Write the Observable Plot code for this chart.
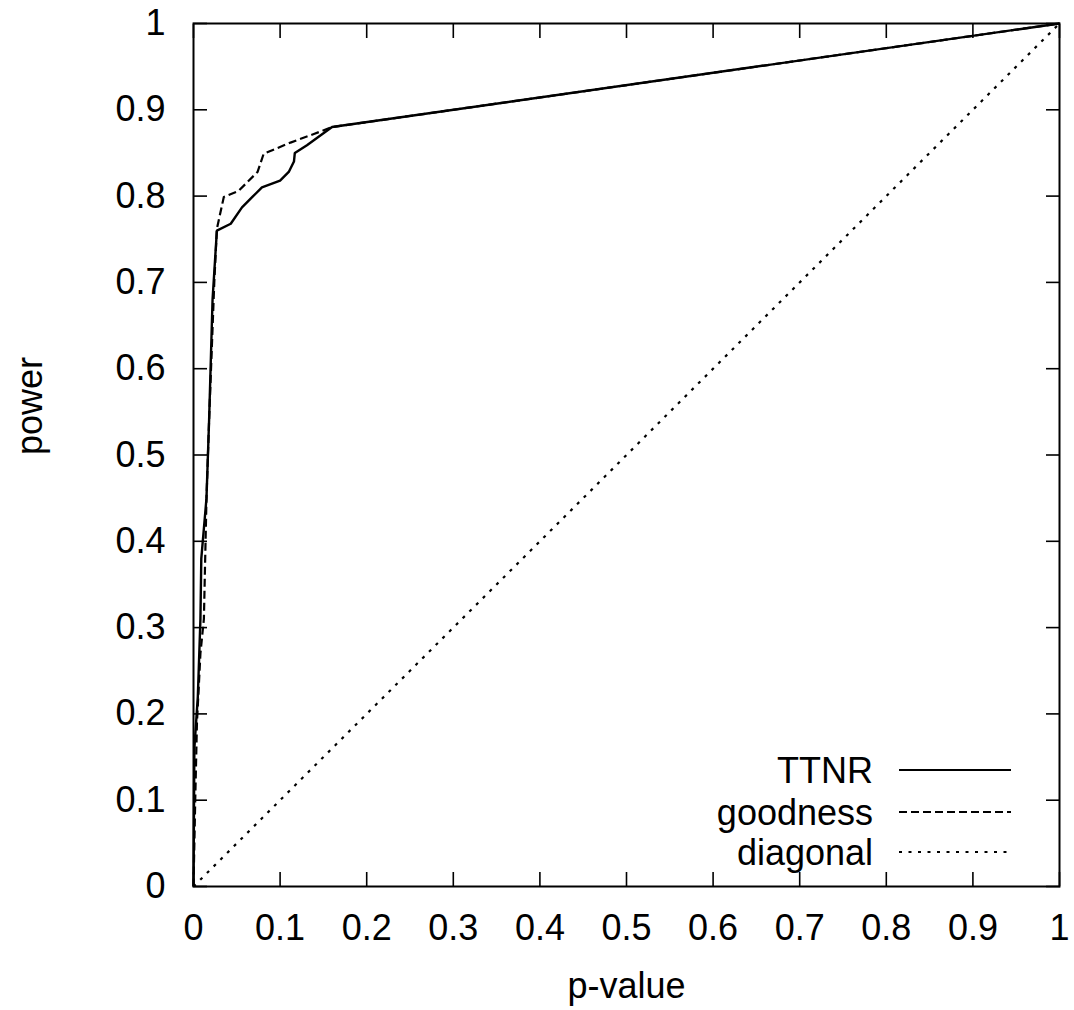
<!DOCTYPE html>
<html><head><meta charset="utf-8">
<script src="https://cdn.jsdelivr.net/npm/d3@7"></script>
<script src="https://cdn.jsdelivr.net/npm/@observablehq/plot@0.6"></script>
<style>
body{margin:0;background:#fff;}
#chart{position:relative;width:1074px;height:1010px;}
#legend{position:absolute;left:0;top:0;pointer-events:none;}
</style>
</head><body><div id="chart"></div>
<script>
const seriesNames = ["TTNR", "goodness", "diagonal"];
const xTicks = [0, 0.1, 0.2, 0.3, 0.4, 0.5, 0.6, 0.7, 0.8, 0.9, 1];
const yTicks = [0, 0.1, 0.2, 0.3, 0.4, 0.5, 0.6, 0.7, 0.8, 0.9, 1];
const ttnrX = [0, 0.001, 0.005, 0.008, 0.009, 0.015, 0.018, 0.022, 0.027, 0.043, 0.056, 0.068, 0.079, 0.100, 0.110, 0.116, 0.117, 0.131, 0.160, 1];
const ttnrY = [0, 0.16, 0.22, 0.31, 0.38, 0.45, 0.54, 0.68, 0.760, 0.768, 0.787, 0.799, 0.810, 0.818, 0.828, 0.840, 0.850, 0.859, 0.880, 1];
const goodX = [0, 0.002, 0.004, 0.008, 0.012, 0.015, 0.018, 0.024, 0.027, 0.035, 0.052, 0.074, 0.081, 0.112, 0.139, 0.160, 1];
const goodY = [0, 0.10, 0.19, 0.27, 0.31, 0.45, 0.54, 0.70, 0.762, 0.799, 0.806, 0.828, 0.849, 0.862, 0.872, 0.880, 1];
const diagX = [0, 1];
const diagY = [0, 1];

const styles = {
  TTNR: {dash: null, width: 2.4},
  goodness: {dash: "8,4", width: 2.2},
  diagonal: {dash: "3,6.5", width: 2.2}
};
const toRows = (xs, ys) => xs.map((x, i) => ({x, y: ys[i]}));
const series = {
  TTNR: toRows(ttnrX, ttnrY),
  goodness: toRows(goodX, goodY),
  diagonal: toRows(diagX, diagY)
};
const fmt = d => String(+d.toFixed(1));
const font = "'Liberation Sans', Arial, sans-serif";

const W = 1074, H = 1010;
const mL = 193, mR = 15, mT = 23, mB = 124;

const plot = Plot.plot({
  width: W, height: H,
  marginLeft: mL, marginRight: mR, marginTop: mT, marginBottom: mB,
  style: {fontFamily: font, background: "#fff", color: "#000"},
  x: {domain: [0, 1]},
  y: {domain: [0, 1]},
  marks: [
    Plot.axisX({anchor: "bottom", ticks: xTicks, tickFormat: fmt, tickSize: -14, tickPadding: 42, fontSize: 36, strokeWidth: 1.6, label: null}),
    Plot.axisX({anchor: "top", ticks: xTicks, tickFormat: () => "", tickSize: -14, strokeWidth: 1.6, label: null}),
    Plot.axisY({anchor: "left", ticks: yTicks, tickFormat: fmt, tickSize: -14, tickPadding: 42, fontSize: 36, strokeWidth: 1.6, label: null}),
    Plot.axisY({anchor: "right", ticks: yTicks, tickFormat: () => "", tickSize: -14, strokeWidth: 1.6, label: null}),
    ...seriesNames.map(n => Plot.line(series[n], {
      x: "x", y: "y", stroke: "#000", strokeWidth: styles[n].width,
      strokeDasharray: styles[n].dash, strokeLinejoin: "round", strokeLinecap: "butt"
    })),
    Plot.frame({stroke: "#000", strokeWidth: 2}),
    Plot.text(["p-value"], {frameAnchor: "bottom", dy: 100, text: d => d, fontSize: 36, lineAnchor: "middle"}),
    Plot.text(["power"], {frameAnchor: "left", dx: -163, rotate: -90, text: d => d, fontSize: 36, lineAnchor: "middle"})
  ]
});

const chart = document.getElementById("chart");
chart.appendChild(plot);

// legend overlay
const leg = d3.select(chart).append("svg").attr("id", "legend")
  .attr("width", W).attr("height", H);
const rowY = [770, 812, 852];
seriesNames.forEach((n, i) => {
  leg.append("text").attr("x", 873).attr("y", rowY[i]).attr("dy", "0.35em")
    .attr("text-anchor", "end").attr("font-family", font).attr("font-size", 36)
    .attr("fill", "#000").text(n);
  leg.append("line").attr("x1", 899).attr("x2", 1011).attr("y1", rowY[i]).attr("y2", rowY[i])
    .attr("stroke", "#000").attr("stroke-width", 2)
    .attr("stroke-dasharray", styles[n].dash);
});
</script>
</body></html>
